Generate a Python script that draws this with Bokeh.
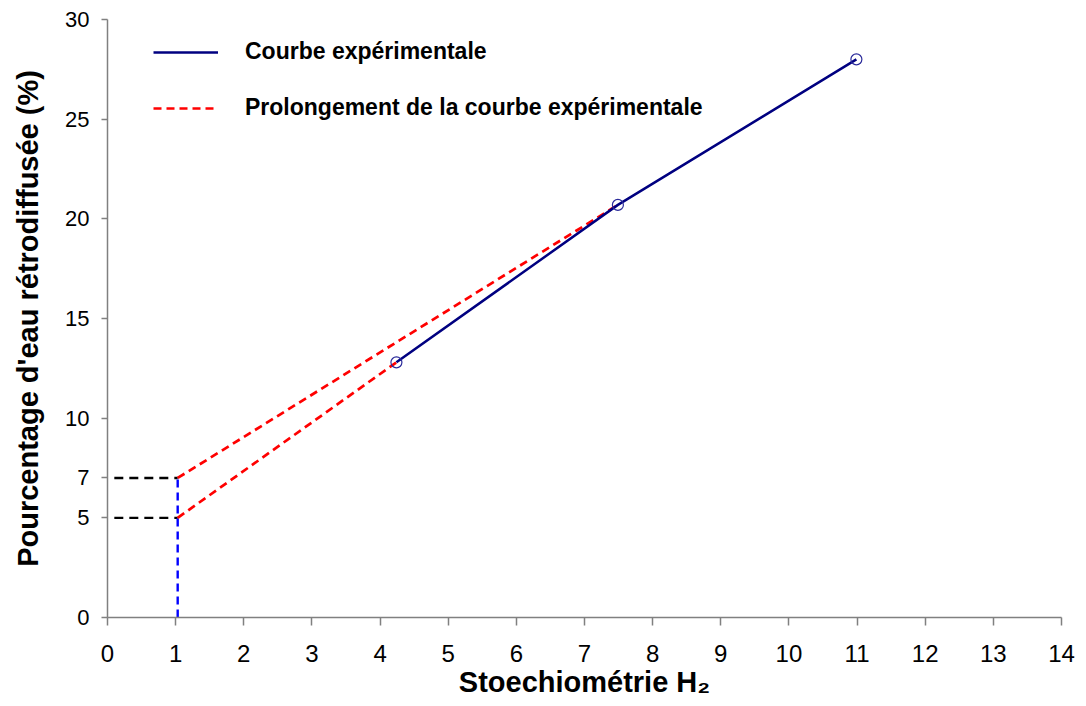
from bokeh.plotting import figure
from bokeh.models import Range1d, FixedTicker, Legend, LegendItem
from bokeh.embed import file_html
from bokeh.resources import INLINE

# Data
x_exp = [4.24, 7.49, 10.99]
y_exp = [12.8, 20.7, 28.0]
x_ext_upper = [1.03, 7.49]
y_ext_upper = [7.0, 20.7]
x_ext_lower = [1.03, 4.24]
y_ext_lower = [5.0, 12.8]
x_ref_h = [0.1, 1.03]
y_ref_h7 = [7.0, 7.0]
y_ref_h5 = [5.0, 5.0]
x_ref_v = [1.03, 1.03]
y_ref_v = [0.0, 7.0]
x_ticks = list(range(0, 15))
y_ticks = [0, 5, 7, 10, 15, 20, 25, 30]

FONT = "Liberation Sans"

p = figure(frame_width=954, frame_height=598,
           x_range=Range1d(0, 14), y_range=Range1d(0, 30),
           output_backend="svg", toolbar_location=None,
           min_border_left=107, min_border_right=17,
           min_border_top=19, min_border_bottom=81)
p.outline_line_color = None
p.xgrid.visible = False
p.ygrid.visible = False
p.background_fill_color = "white"

# reference lines
p.line(x_ref_h, y_ref_h7, line_color="black", line_width=2.4, line_dash="9 6")
p.line(x_ref_h, y_ref_h5, line_color="black", line_width=2.4, line_dash="9 6")
p.line(x_ref_v, y_ref_v, line_color="#0000ff", line_width=2.4, line_dash="8 5")

# extrapolation
r_ext = p.line(x_ext_upper, y_ext_upper, line_color="#ff0000", line_width=2.7, line_dash="8 5")
p.line(x_ext_lower, y_ext_lower, line_color="#ff0000", line_width=2.7, line_dash="8 5")

# experimental
r_exp = p.line(x_exp, y_exp, line_color="#000080", line_width=2.5)
p.scatter(x_exp, y_exp, marker="circle", size=11, fill_color=None,
          line_color="#2a2a9a", line_width=1.2)

legend = Legend(items=[LegendItem(label="Courbe expérimentale", renderers=[r_exp]),
                       LegendItem(label="Prolongement de la courbe expérimentale", renderers=[r_ext])],
                location=(46, 496), glyph_width=65, glyph_height=20, label_height=20,
                label_standoff=27, spacing=29, padding=0, margin=0,
                border_line_color=None, background_fill_alpha=0,
                label_text_font=FONT, label_text_font_style="bold",
                label_text_font_size="23px", label_text_color="black")
p.add_layout(legend)

for ax in (p.xaxis[0], p.yaxis[0]):
    ax.axis_line_color = "#808080"
    ax.axis_line_width = 1.5
    ax.major_tick_line_color = "#808080"
    ax.major_tick_line_width = 1.5
    ax.minor_tick_line_color = None
    ax.major_tick_in = 0
    ax.major_label_text_font = FONT
    ax.major_label_text_color = "black"
    ax.axis_label_text_font = FONT
    ax.axis_label_text_font_style = "bold"
    ax.axis_label_text_color = "black"
    ax.axis_label_text_font_size = "29px"

p.xaxis.ticker = FixedTicker(ticks=x_ticks)
p.yaxis.ticker = FixedTicker(ticks=y_ticks)
p.xaxis.major_label_text_font_size = "24px"
p.yaxis.major_label_text_font_size = "22px"
p.xaxis.major_tick_out = 8
p.yaxis.major_tick_out = 6
p.xaxis.major_label_standoff = 19
p.yaxis.major_label_standoff = 12
p.xaxis.axis_label = "Stoechiométrie H₂"
p.yaxis.axis_label = "Pourcentage d'eau rétrodiffusée (%)"
p.xaxis.axis_label_standoff = 1
p.yaxis.axis_label_standoff = 18

open("out.html", "w").write(file_html(p, INLINE))
